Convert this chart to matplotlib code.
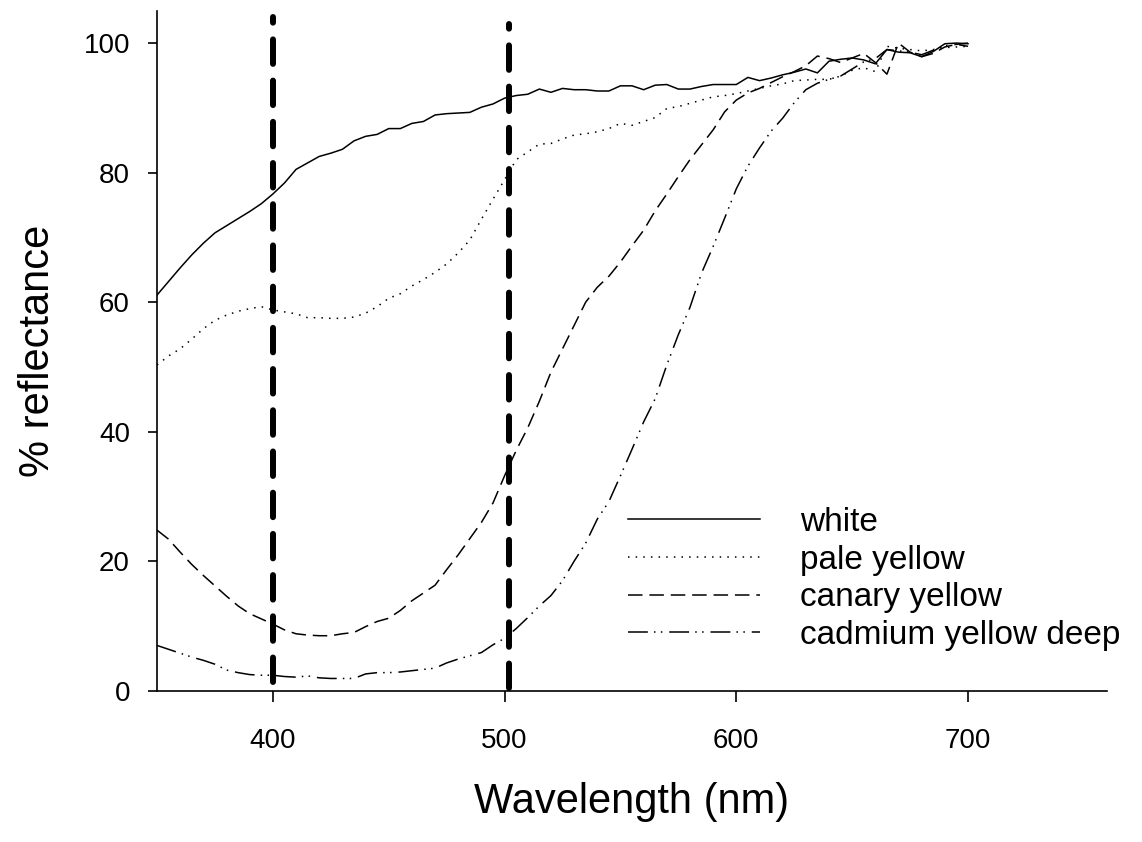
import numpy as np
import matplotlib
matplotlib.use("Agg")
import matplotlib.pyplot as plt

plt.rcParams["font.family"] = ["Liberation Sans", "DejaVu Sans"]

# -------------------------
# Data (5 nm steps)
# -------------------------
wavelength = np.arange(350, 701, 5)

white = [61.1, 63.2, 65.3, 67.3, 69.1, 70.7, 71.8, 72.9, 74.0, 75.2,
         76.7, 78.4, 80.5, 81.5, 82.5, 83.0, 83.6, 84.9, 85.6, 85.9,
         86.8, 86.8, 87.6, 87.9, 88.9, 89.1, 89.2, 89.3, 90.1, 90.6,
         91.5, 91.9, 92.1, 92.9, 92.4, 93.0, 92.8, 92.8, 92.6, 92.6,
         93.4, 93.4, 92.8, 93.5, 93.6, 92.9, 92.9, 93.3, 93.6, 93.6,
         93.6, 94.7, 94.2, 94.6, 95.1, 95.5, 96.0, 95.4, 97.2, 97.5,
         97.7, 97.4, 96.8, 99.0, 98.6, 98.5, 97.9, 98.7, 99.9, 100.0,
         99.9]

pale_yellow = [50.3, 51.7, 52.8, 54.3, 55.9, 57.2, 58.0, 58.6, 59.0, 59.3,
               58.8, 58.5, 58.2, 57.6, 57.6, 57.5, 57.5, 57.7, 58.3, 59.3,
               60.6, 61.3, 62.5, 63.5, 64.6, 65.9, 67.6, 69.6, 72.8, 75.9,
               78.9, 82.0, 83.2, 84.4, 84.5, 85.2, 85.8, 86.0, 86.3, 86.8,
               87.6, 87.3, 87.9, 88.5, 89.9, 90.2, 90.7, 91.2, 91.7, 91.9,
               92.2, 92.6, 93.0, 93.4, 93.7, 94.2, 94.3, 94.4, 94.4, 94.9,
               95.8, 96.2, 95.6, 99.5, 99.2, 99.0, 98.8, 99.0, 99.3, 99.4,
               99.5]

canary_yellow = [24.8, 23.4, 21.4, 19.5, 17.8, 16.2, 14.6, 13.1, 11.9, 11.1,
                 10.3, 9.4, 8.8, 8.6, 8.5, 8.5, 8.8, 9.0, 9.9, 10.7,
                 11.2, 12.4, 13.9, 15.1, 16.3, 18.7, 21.0, 23.5, 26.0, 29.0,
                 33.2, 37.1, 40.6, 44.7, 49.2, 52.8, 56.4, 60.0, 62.3, 64.0,
                 66.2, 68.7, 71.1, 74.1, 76.7, 79.4, 82.0, 84.3, 86.6, 89.4,
                 91.2, 92.3, 93.0, 93.9, 94.8, 95.6, 96.5, 98.0, 97.6, 97.0,
                 97.7, 98.4, 97.0, 95.2, 100.0, 98.6, 97.9, 98.4, 99.4, 99.8,
                 99.5]

cadmium_yellow_deep = [7.0, 6.4, 5.8, 5.2, 4.7, 4.1, 3.2, 2.8, 2.5, 2.4,
                       2.4, 2.2, 2.1, 2.3, 2.0, 1.9, 1.9, 1.9, 2.6, 2.8,
                       2.8, 2.9, 3.1, 3.3, 3.5, 4.3, 4.9, 5.4, 5.9, 7.1,
                       8.1, 9.6, 11.3, 13.1, 14.7, 17.0, 20.0, 22.8, 26.5, 29.2,
                       33.2, 37.3, 41.5, 45.1, 50.3, 55.0, 59.2, 64.5, 68.6, 73.0,
                       77.5, 81.0, 83.8, 86.4, 88.4, 90.8, 92.8, 93.8, 94.4, 94.9,
                       96.0, 97.1, 97.6, 99.0, 98.8, 98.6, 98.2, 98.9, 99.6, 99.8,
                       100.0]

labels = ["white", "pale yellow", "canary yellow", "cadmium yellow deep"]
styles = ["-", (0, (1, 4)), (0, (9.5, 4.5)), (0, (13, 4, 1, 3.5, 1, 4.5))]

# reference wavelength markers (thick dashed verticals)
marker_nm = [400, 502]
marker_bottom = [1.3, 0.4]
marker_top = [104.0, 103.0]

# -------------------------
# Plot
# -------------------------
fig = plt.figure(figsize=(11.42, 8.42), dpi=100)
ax = fig.add_axes([0.1375, 0.1796, 0.8319, 0.8077])

series = [white, pale_yellow, canary_yellow, cadmium_yellow_deep]
for vals, lab, ls in zip(series, labels, styles):
    ax.plot(wavelength, vals, color="black", lw=1.1, linestyle=ls,
            dash_capstyle="butt", label=lab)

for xm, y0, y1 in zip(marker_nm, marker_bottom, marker_top):
    ax.plot([xm, xm], [y0, y1], color="black", lw=4.3,
            linestyle=(0, (4.1, 2.8)), dash_capstyle="round")

ax.set_xlim(350, 760)
ax.set_ylim(0, 105)
ax.set_xticks([400, 500, 600, 700])
ax.set_yticks([0, 20, 40, 60, 80, 100])

for side in ["top", "right"]:
    ax.spines[side].set_visible(False)
for side in ["left", "bottom"]:
    ax.spines[side].set_linewidth(1.2)

ax.tick_params(axis="x", direction="out", length=8, width=1.2,
               pad=19, labelsize=20)
ax.tick_params(axis="y", direction="out", length=6.5, width=1.2,
               pad=13, labelsize=20)

ax.set_xlabel("Wavelength (nm)", fontsize=30, labelpad=20)
ax.set_ylabel("% reflectance", fontsize=30, labelpad=18)

leg = ax.legend(loc="upper left", bbox_to_anchor=(0.482, 0.29),
                frameon=False, fontsize=24, handlelength=3.95,
                handletextpad=1.2, labelspacing=0.2, borderaxespad=0)

fig.savefig("out.png", dpi=100)
